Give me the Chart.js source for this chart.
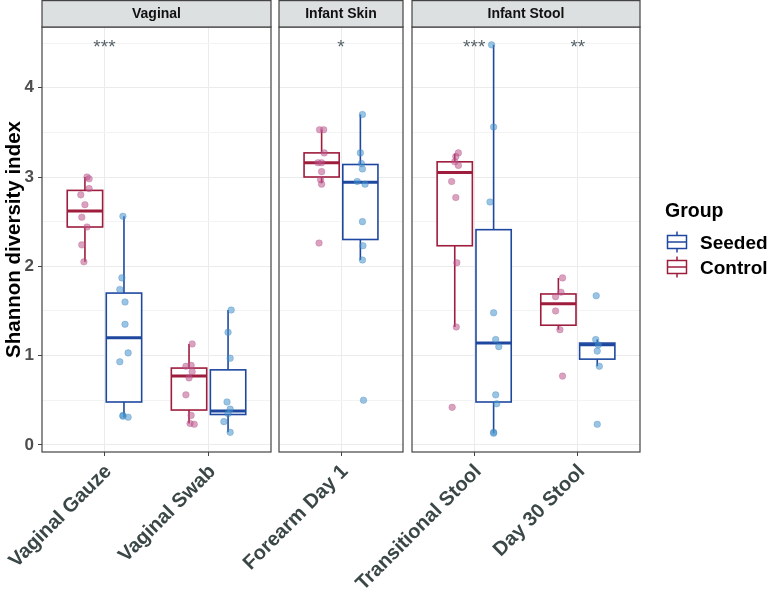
<!DOCTYPE html>
<html>
<head>
<meta charset="utf-8">
<script src="https://cdn.jsdelivr.net/npm/chart.js@4.4.1/dist/chart.umd.min.js"></script>
<style>
  html, body { margin: 0; padding: 0; background: #fff; }
  #wrap { position: relative; width: 780px; height: 589px; }
  #wrap canvas { position: absolute; left: 0; top: 0; }
</style>
</head>
<body>
<div id="wrap">
  <canvas id="panel0" width="780" height="589"></canvas>
  <canvas id="panel1" width="780" height="589"></canvas>
  <canvas id="panel2" width="780" height="589"></canvas>
</div>
<script>
// data
const panelNames = ['Vaginal', 'Infant Skin', 'Infant Stool'];
const categories = ['Vaginal Gauze', 'Vaginal Swab', 'Forearm Day 1', 'Transitional Stool', 'Day 30 Stool'];
const categoryPanel = [0, 0, 1, 2, 2];
const groups = ['Seeded', 'Control'];
const significance = ['***', '', '*', '***', '**'];
const significanceY = 4.5;
const yTicks = [0, 1, 2, 3, 4];

const controlLow    = [2.05, 0.24, 2.93, 1.32, 1.29];
const controlQ1     = [2.44, 0.39, 3.00, 2.23, 1.34];
const controlMedian = [2.62, 0.77, 3.16, 3.05, 1.58];
const controlQ3     = [2.85, 0.86, 3.27, 3.17, 1.69];
const controlHigh   = [3.00, 1.13, 3.53, 3.26, 1.87];

const seededLow    = [0.31, 0.14, 2.07, 0.13, 0.88];
const seededQ1     = [0.48, 0.34, 2.30, 0.48, 0.96];
const seededMedian = [1.20, 0.38, 2.94, 1.14, 1.12];
const seededQ3     = [1.70, 0.84, 3.14, 2.41, 1.14];
const seededHigh   = [2.56, 1.51, 3.70, 4.48, 1.18];

const controlPoints = [
  [3.00, 2.98, 2.87, 2.80, 2.69, 2.55, 2.44, 2.24, 2.05],
  [1.13, 0.88, 0.89, 0.82, 0.75, 0.56, 0.33, 0.24, 0.23],
  [3.53, 3.53, 3.27, 3.16, 3.16, 3.06, 2.97, 2.92, 2.26],
  [3.27, 3.23, 3.17, 3.13, 2.95, 2.77, 2.04, 1.32, 0.42],
  [1.87, 1.71, 1.66, 1.50, 1.29, 0.77]
];
const controlJitter = [
  [0.02, 0.04, 0.04, -0.04, 0.0, -0.03, 0.02, -0.03, -0.01],
  [0.03, -0.03, 0.02, 0.03, 0.0, -0.03, 0.02, 0.01, 0.05],
  [-0.02, 0.02, 0.025, -0.035, 0.0, 0.0, -0.01, 0.0, -0.025],
  [0.035, 0.01, 0.0, 0.035, -0.03, 0.01, 0.02, 0.015, -0.025],
  [0.04, 0.025, -0.027, -0.027, 0.015, 0.04]
];
const seededPoints = [
  [2.56, 1.87, 1.74, 1.60, 1.35, 1.03, 0.93, 0.33, 0.32, 0.31],
  [1.51, 1.26, 0.97, 0.48, 0.40, 0.35, 0.26, 0.14],
  [3.70, 3.27, 3.15, 3.09, 2.95, 2.92, 2.50, 2.23, 2.07, 0.50],
  [4.48, 3.56, 2.72, 1.48, 1.18, 1.10, 0.56, 0.46, 0.14, 0.13],
  [1.67, 1.18, 1.12, 1.05, 0.88, 0.23]
];
const seededJitter = [
  [-0.01, -0.02, -0.04, 0.01, 0.01, 0.04, -0.04, -0.01, -0.01, 0.04],
  [0.03, 0.0, 0.02, -0.01, 0.02, 0.0, -0.04, 0.02],
  [0.02, 0.0, 0.01, 0.02, -0.03, 0.045, 0.02, 0.025, 0.02, 0.03],
  [-0.02, 0.0, -0.035, 0.0, 0.02, 0.05, 0.02, 0.03, 0.0, 0.0],
  [-0.01, -0.015, 0.01, 0.0, 0.02, 0.0]
];

// look
const FONT = '"Liberation Sans", Arial, Helvetica, sans-serif';
const CONTROL_LINE = '#9e1c3c';
const SEEDED_LINE = '#1e48a0';
const CONTROL_POINT = 'rgba(190, 85, 140, 0.55)';
const SEEDED_POINT = 'rgba(70, 148, 205, 0.55)';
const DODGE = 0.1875;
const BOX_W = 0.34;
// plot area edges of each facet, in page pixels
const panelLeft = [42, 279, 412];
const panelRight = [271, 403, 640];

function drawBox(ctx, x, y, pos, low, q1, med, q3, high, color) {
  const cx = x.getPixelForValue(pos);
  const l = x.getPixelForValue(pos - BOX_W / 2);
  const r = x.getPixelForValue(pos + BOX_W / 2);
  ctx.strokeStyle = color;
  ctx.lineWidth = 1.6;
  ctx.beginPath();
  ctx.moveTo(cx, y.getPixelForValue(low));
  ctx.lineTo(cx, y.getPixelForValue(q1));
  ctx.moveTo(cx, y.getPixelForValue(q3));
  ctx.lineTo(cx, y.getPixelForValue(high));
  ctx.stroke();
  const top = y.getPixelForValue(q3), bot = y.getPixelForValue(q1);
  ctx.fillStyle = '#fff';
  ctx.fillRect(l, top, r - l, bot - top);
  ctx.strokeRect(l, top, r - l, bot - top);
  ctx.lineWidth = 3;
  ctx.beginPath();
  ctx.moveTo(l, y.getPixelForValue(med));
  ctx.lineTo(r, y.getPixelForValue(med));
  ctx.stroke();
}

function drawKey(ctx, cx, cy, color) {
  ctx.strokeStyle = color;
  ctx.lineWidth = 1.5;
  ctx.beginPath();
  ctx.moveTo(cx, cy - 10.5); ctx.lineTo(cx, cy - 6.5);
  ctx.moveTo(cx, cy + 6.5); ctx.lineTo(cx, cy + 10.5);
  ctx.stroke();
  ctx.strokeRect(cx - 9.5, cy - 6.5, 19, 13);
  ctx.beginPath();
  ctx.moveTo(cx - 9.5, cy); ctx.lineTo(cx + 9.5, cy);
  ctx.stroke();
}

function facetPlugin(p, cats) {
  return {
    id: 'facet' + p,
    beforeDatasetsDraw(chart) {
      const { ctx, chartArea: a, scales: { x, y } } = chart;
      ctx.save();
      ctx.beginPath();
      ctx.rect(a.left, a.top, a.right - a.left, a.bottom - a.top);
      ctx.clip();
      cats.forEach((g, k) => {
        drawBox(ctx, x, y, k + 1 - DODGE, controlLow[g], controlQ1[g], controlMedian[g], controlQ3[g], controlHigh[g], CONTROL_LINE);
        drawBox(ctx, x, y, k + 1 + DODGE, seededLow[g], seededQ1[g], seededMedian[g], seededQ3[g], seededHigh[g], SEEDED_LINE);
      });
      ctx.restore();
    },
    afterDraw(chart) {
      const { ctx, chartArea: a, scales: { x, y } } = chart;
      ctx.save();
      // significance stars
      ctx.fillStyle = '#56636a';
      ctx.font = '19px ' + FONT;
      ctx.textAlign = 'center';
      ctx.textBaseline = 'middle';
      cats.forEach((g, k) => {
        if (significance[g]) ctx.fillText(significance[g], x.getPixelForValue(k + 1), y.getPixelForValue(significanceY) + 5);
      });
      // panel border
      ctx.strokeStyle = '#444';
      ctx.lineWidth = 1.2;
      ctx.strokeRect(a.left, a.top, a.right - a.left, a.bottom - a.top);
      // strip
      ctx.fillStyle = '#dce0e0';
      ctx.fillRect(a.left, 0.6, a.right - a.left, a.top - 0.6);
      ctx.strokeRect(a.left, 0.6, a.right - a.left, a.top - 0.6);
      ctx.fillStyle = '#111';
      ctx.font = 'bold 14px ' + FONT;
      ctx.fillText(panelNames[p], (a.left + a.right) / 2, a.top / 2 + 1);
      // legend on the last facet
      if (p === panelNames.length - 1) {
        ctx.textAlign = 'left';
        ctx.textBaseline = 'alphabetic';
        ctx.fillStyle = '#000';
        ctx.font = 'bold 19.5px ' + FONT;
        ctx.fillText('Group', 665, 217);
        drawKey(ctx, 677, 242, SEEDED_LINE);
        drawKey(ctx, 677, 267, CONTROL_LINE);
        ctx.fillStyle = '#000';
        ctx.font = 'bold 19px ' + FONT;
        ctx.fillText(groups[0], 700, 249);
        ctx.fillText(groups[1], 700, 274);
      }
      ctx.restore();
    }
  };
}

function makePanel(p) {
  const cats = [];
  categoryPanel.forEach((q, g) => { if (q === p) cats.push(g); });
  const controlData = [], seededData = [];
  cats.forEach((g, k) => {
    controlPoints[g].forEach((v, j) => controlData.push({ x: k + 1 - DODGE + controlJitter[g][j], y: v }));
    seededPoints[g].forEach((v, j) => seededData.push({ x: k + 1 + DODGE + seededJitter[g][j], y: v }));
  });
  const first = p === 0;

  new Chart(document.getElementById('panel' + p), {
    type: 'scatter',
    data: {
      datasets: [
        { label: 'Control', data: controlData, backgroundColor: CONTROL_POINT, borderColor: 'rgba(170, 70, 125, 0.45)', borderWidth: 0.6, pointRadius: 3.3 },
        { label: 'Seeded', data: seededData, backgroundColor: SEEDED_POINT, borderColor: 'rgba(50, 120, 180, 0.45)', borderWidth: 0.6, pointRadius: 3.3 }
      ]
    },
    options: {
      responsive: false,
      animation: false,
      events: [],
      layout: { padding: { left: first ? 0 : panelLeft[p], right: 780 - panelRight[p], top: 27, bottom: 0 } },
      plugins: { legend: { display: false }, tooltip: { enabled: false } },
      scales: {
        x: {
          type: 'linear',
          min: 0.4,
          max: cats.length + 0.6,
          afterBuildTicks: s => { s.ticks = cats.map((g, k) => ({ value: k + 1 })); },
          afterFit: s => { s.height = 137; s.paddingLeft = 0; s.paddingRight = 0; },
          ticks: {
            autoSkip: false,
            minRotation: 45,
            maxRotation: 45,
            padding: 4,
            labelOffset: 4,
            color: '#3b4747',
            font: { family: FONT, size: 20, weight: 'bold' },
            callback: v => categories[cats[Math.round(v) - 1]]
          },
          grid: { color: '#ebebeb', tickColor: '#444', tickLength: 4 },
          border: { display: false }
        },
        y: {
          min: -0.08,
          max: 4.68,
          afterBuildTicks: s => {
            const t = [];
            for (let v = 0; v <= 4.5; v += 0.5) t.push({ value: v });
            s.ticks = t;
          },
          afterFit: s => { s.width = first ? 42 : 0; s.paddingTop = 0; s.paddingBottom = 0; },
          ticks: {
            display: first,
            padding: 4,
            color: '#4d4d4d',
            font: { family: FONT, size: 17, weight: 'bold' },
            callback: v => yTicks.includes(v) ? String(v) : ''
          },
          grid: {
            color: c => c.tick && yTicks.includes(c.tick.value) ? '#ebebeb' : '#f3f3f3',
            tickColor: c => c.tick && yTicks.includes(c.tick.value) ? '#444' : 'rgba(0,0,0,0)',
            drawTicks: first,
            tickLength: 4
          },
          border: { display: false },
          title: {
            display: first,
            text: 'Shannon diversity index',
            color: '#000',
            font: { family: FONT, size: 20.5, weight: 'bold' },
            padding: { top: 2, bottom: 0 }
          }
        }
      }
    },
    plugins: [facetPlugin(p, cats)]
  });
}

panelNames.forEach((n, p) => makePanel(p));
</script>
</body>
</html>
